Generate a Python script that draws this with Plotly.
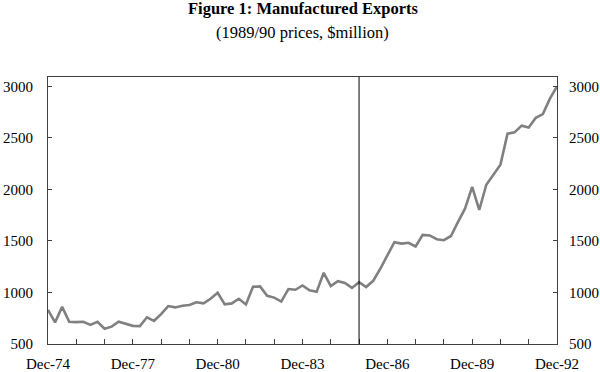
import plotly.graph_objects as go

months = ["Mar", "Jun", "Sep", "Dec"]
quarters = ["Dec-74"] + [f"{m}-{y % 100:02d}" for y in range(75, 93) for m in months]

exports = [830, 710, 860, 716, 712, 716, 685, 716, 648, 668, 716, 697, 676, 673, 759, 725,
           790, 868, 855, 871, 878, 905, 894, 939, 997, 885, 894, 939, 884, 1055, 1059, 968,
           950, 912, 1033, 1026, 1068, 1020, 1006, 1191, 1062, 1110, 1093, 1044, 1100, 1052, 1113, 1230,
           1359, 1488, 1474, 1482, 1446, 1559, 1553, 1516, 1507, 1548, 1685, 1815, 2025, 1800,
           2045, 2140, 2240, 2540, 2553, 2618, 2600, 2695, 2730, 2880, 3000]

tick_vals = [q for q in quarters if q.startswith("Dec")]
tick_text = [q if int(q[-2:]) % 3 == 2 else "" for q in tick_vals]
y_ticks = [500, 1000, 1500, 2000, 2500, 3000]
y_range = [500, 3090]
break_quarter = "Dec-85"

font = "Liberation Serif, Times New Roman, serif"
axis_col = "#404040"

fig = go.Figure()
fig.add_trace(go.Scatter(x=quarters, y=exports, mode="lines",
                         line=dict(color="#808080", width=2.6), showlegend=False))
fig.add_trace(go.Scatter(x=quarters, y=exports, mode="lines", yaxis="y2",
                         line=dict(color="rgba(0,0,0,0)", width=0), showlegend=False,
                         hoverinfo="skip"))

fig.add_shape(type="line", xref="x", yref="paper", x0=break_quarter, x1=break_quarter,
              y0=0, y1=1, line=dict(color="black", width=1))

fig.update_layout(
    width=600, height=372,
    margin=dict(l=48, r=43, t=77, b=28),
    paper_bgcolor="white", plot_bgcolor="white",
    font=dict(family=font, size=15, color="black"),
    annotations=[
        dict(text="<b>Figure 1: Manufactured Exports</b>", xref="paper", yref="paper",
             x=0.5, y=1, yshift=69, showarrow=False, font=dict(size=16.5, family=font),
             xanchor="center", yanchor="middle"),
        dict(text="(1989/90 prices, $million)", xref="paper", yref="paper",
             x=0.5, y=1, yshift=45, showarrow=False, font=dict(size=16.5, family=font),
             xanchor="center", yanchor="middle"),
    ],
    xaxis=dict(type="category", categoryorder="array", categoryarray=quarters,
               range=[0, len(quarters) - 1], automargin=False,
               tickvals=tick_vals, ticktext=tick_text, ticks="inside", ticklen=5,
               tickcolor=axis_col, showgrid=False, zeroline=False,
               showline=True, linecolor=axis_col, linewidth=1, mirror=True,
               ticklabelstandoff=6, tickfont=dict(size=15, family=font)),
    yaxis=dict(range=y_range, tickvals=y_ticks, ticks="inside", ticklen=4,
               tickcolor=axis_col, showgrid=False, zeroline=False, automargin=False,
               showline=True, linecolor=axis_col, linewidth=1, ticklabelstandoff=11,
               tickfont=dict(size=15, family=font)),
    yaxis2=dict(range=y_range, tickvals=y_ticks, ticks="inside", ticklen=4,
                tickcolor=axis_col, overlaying="y", side="right", showgrid=False,
                zeroline=False, showline=True, linecolor=axis_col, linewidth=1,
                automargin=False, ticklabelstandoff=8,
                tickfont=dict(size=15, family=font)),
)

fig.write_html("out.html", config={"displayModeBar": False},
               post_script="document.body.style.margin='0';document.body.style.overflow='hidden';")
